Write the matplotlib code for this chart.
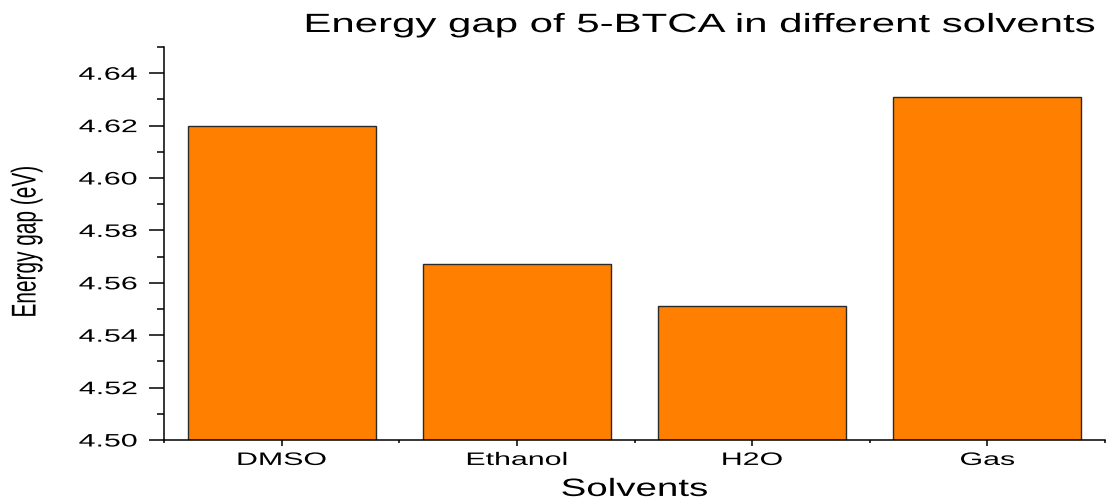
import numpy as np
import matplotlib
matplotlib.use('Agg')
import matplotlib.pyplot as plt
from matplotlib.patheffects import AbstractPathEffect
from matplotlib.transforms import Affine2D
from matplotlib.ticker import MultipleLocator, FormatStrFormatter

solvents = ['DMSO', 'Ethanol', 'H2O', 'Gas']
energy_gap = [4.620, 4.567, 4.551, 4.631]

plt.rcParams['font.family'] = ['Liberation Sans', 'DejaVu Sans']


# the reference text looks horizontally stretched, so widen the glyphs
class Stretch(AbstractPathEffect):
    def __init__(self, sx=1.0, sy=1.0, anchor='center'):
        super().__init__()
        self.sx, self.sy, self.anchor = sx, sy, anchor

    def draw_path(self, renderer, gc, tpath, affine, rgbFace=None):
        ext = tpath.get_extents()
        cx = {'left': ext.x0, 'right': ext.x1}.get(self.anchor, (ext.x0 + ext.x1) / 2)
        cy = (ext.y0 + ext.y1) / 2
        t = Affine2D().translate(-cx, -cy).scale(self.sx, self.sy).translate(cx, cy) + affine
        renderer.draw_path(gc, tpath, t, rgbFace)


fig = plt.figure(figsize=(11.13, 5), dpi=100)
ax = fig.add_axes([164 / 1113, 60 / 500, 941 / 1113, 393 / 500])

x = np.arange(1, len(solvents) + 1)
ax.bar(x, energy_gap, width=0.8, color='#FF8000', edgecolor='#2a2a2a', linewidth=1.0)

ax.set_xlim(0.5, 4.5)
ax.set_ylim(4.50, 4.65)
ax.spines['top'].set_visible(False)
ax.spines['right'].set_visible(False)
ax.spines['left'].set_linewidth(1.1)
ax.spines['bottom'].set_linewidth(1.1)

ax.yaxis.set_major_locator(MultipleLocator(0.02))
ax.yaxis.set_minor_locator(MultipleLocator(0.01))
ax.yaxis.set_major_formatter(FormatStrFormatter('%.2f'))
ax.set_xticks(x, solvents)
ax.set_xticks(np.arange(0.5, 5, 1), minor=True)

ax.tick_params(axis='y', which='major', length=10.8, width=1.1, pad=8.6, labelsize=13)
ax.tick_params(axis='y', which='minor', length=5, width=1.1)
ax.tick_params(axis='x', which='major', length=4.3, width=1.1, pad=4.3, labelsize=13)
ax.tick_params(axis='x', which='minor', length=2.2, width=1.1)

ax.set_title('Energy gap of 5-BTCA in different solvents', fontsize=19,
             x=(700 - 164) / 941, pad=10.8, path_effects=[Stretch(sx=1.59)])
ax.set_xlabel('Solvents', fontsize=18, path_effects=[Stretch(sx=1.54)])
ax.xaxis.set_label_coords(0.5, -0.094)
ax.set_ylabel('Energy gap (eV)', fontsize=15, path_effects=[Stretch(sy=1.65)])
ax.yaxis.set_label_coords((36 - 164) / 941, 0.505)

fig.canvas.draw()
for t in ax.yaxis.get_major_ticks():
    t.label1.set_path_effects([Stretch(sx=1.68, anchor='right')])
for t in ax.xaxis.get_major_ticks():
    t.label1.set_path_effects([Stretch(sx=1.68)])

fig.savefig('out.png', dpi=100)
